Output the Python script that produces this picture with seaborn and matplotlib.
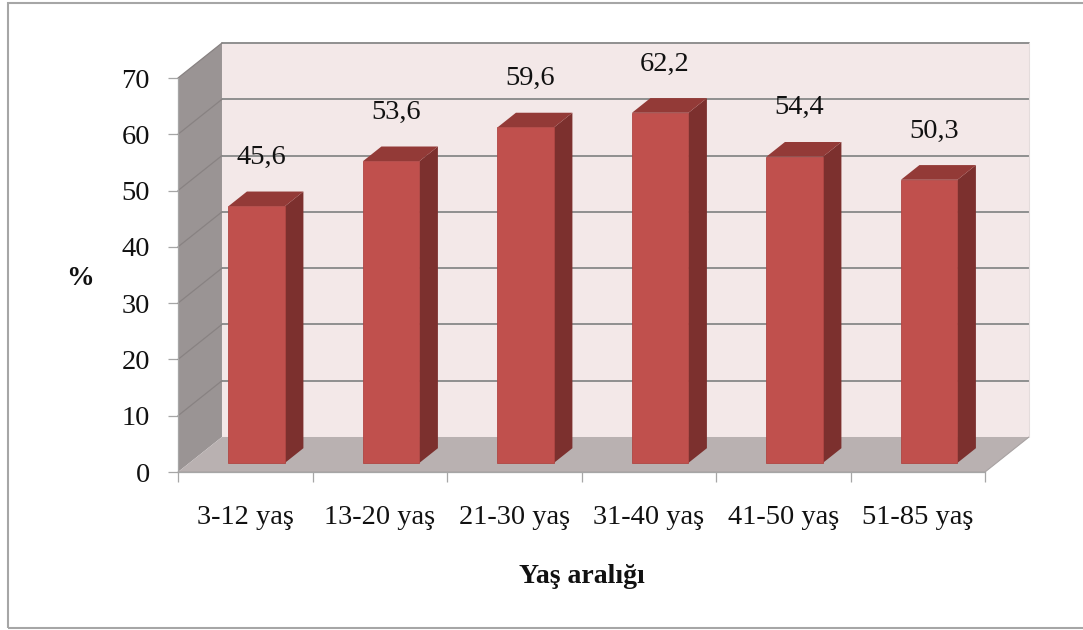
import matplotlib
matplotlib.use("Agg")
import matplotlib.pyplot as plt
from matplotlib.patches import Polygon, Rectangle
import seaborn as sns
import pandas as pd

# Data
categories = ["3-12 yaş", "13-20 yaş", "21-30 yaş", "31-40 yaş", "41-50 yaş", "51-85 yaş"]
values = [45.6, 53.6, 59.6, 62.2, 54.4, 50.3]
y_ticks = [0, 10, 20, 30, 40, 50, 60, 70]

sns.set_theme(style="white")
plt.rcParams["font.family"] = ["Liberation Serif", "DejaVu Serif"]

W, H = 1083, 630
fig = plt.figure(figsize=(W / 100, H / 100), dpi=100)
ax = fig.add_axes([178 / W, (H - 472) / H, 807 / W, 394 / H])
ax.set_xlim(-0.5, len(categories) - 0.5)
ax.set_ylim(0, 70)
ax.patch.set_alpha(0)

# Oblique depth of the 3D box, in data units
DX, DY = 0.327, 6.22
D0, D1 = 0.26, 0.68          # front / back depth of the bars
x_lo, x_hi = -0.5, len(categories) - 0.5
y_hi = y_ticks[-1]

wall_c = "#F3E8E8"
side_c = "#9A9494"
floor_c = "#B9B1B1"
grid_c = "#8F8F8F"

def poly(pts, fc, ec="none", lw=0.0, z=1):
    p = Polygon(pts, closed=True, facecolor=fc, edgecolor=ec, linewidth=lw,
                zorder=z, clip_on=False, joinstyle="miter")
    ax.add_patch(p)
    return p

# Back wall, left wall and floor
poly([(x_lo + DX, DY), (x_hi + DX, DY), (x_hi + DX, y_hi + DY), (x_lo + DX, y_hi + DY)], wall_c, z=0.5)
poly([(x_lo, 0), (x_lo + DX, DY), (x_lo + DX, y_hi + DY), (x_lo, y_hi)], side_c, z=0.6)
poly([(x_lo, 0), (x_hi, 0), (x_hi + DX, DY), (x_lo + DX, DY)], floor_c, z=0.7)

# Gridlines on back and left walls
for v in y_ticks[1:]:
    ax.plot([x_lo + DX, x_hi + DX], [v + DY, v + DY], color=grid_c, lw=1.4, zorder=0.8, clip_on=False)
    ax.plot([x_lo, x_lo + DX], [v, v + DY], color="#888282", lw=0.9, zorder=0.8, clip_on=False)
ax.plot([x_hi + DX, x_hi + DX], [DY, y_hi + DY], color="#E4DCDC", lw=0.8, zorder=0.8, clip_on=False)
ax.plot([x_lo, x_hi, x_hi + DX], [0, 0, DY], color="#A8A2A2", lw=0.8, zorder=0.75, clip_on=False)

# Front faces of the bars
df = pd.DataFrame({"cat": categories, "val": values})
sns.barplot(data=df, x="cat", y="val", color="#C0504D", saturation=1, width=0.42,
            ax=ax, zorder=3)

front_c, right_c, top_c = "#C0504D", "#7C302E", "#933A37"
sx, sy = D0 * DX, D0 * DY
bx, by = (D1 - D0) * DX, (D1 - D0) * DY
for p in ax.patches:
    if not isinstance(p, Rectangle):
        continue
    x0, w, h = p.get_x(), p.get_width(), p.get_height()
    p.set_x(x0 + sx)
    p.set_y(sy)
    p.set_clip_on(False)
    p.set_edgecolor("#B04643")
    p.set_linewidth(0.6)
    xa, xb = x0 + sx, x0 + sx + w
    yb, yt = sy, sy + h
    poly([(xb, yb), (xb + bx, yb + by), (xb + bx, yt + by), (xb, yt)], right_c, z=2.9)
    poly([(xa, yt), (xb, yt), (xb + bx, yt + by), (xa + bx, yt + by)], top_c, z=2.9)

# Value labels
for i, v in enumerate(values):
    ax.text(i + 0.12, v + 10.3, f"{v:.1f}".replace(".", ","), ha="center", va="center",
            fontsize=20.5, color="#111111", zorder=5)

# Axes styling
for s in ["top", "right"]:
    ax.spines[s].set_visible(False)
for s in ["left", "bottom"]:
    ax.spines[s].set_color("#A6A6A6")
    ax.spines[s].set_linewidth(0.9)
    ax.spines[s].set_zorder(1)

ax.set_yticks(y_ticks)
ax.set_yticklabels([str(t) for t in y_ticks])
ax.tick_params(axis="y", left=True, length=7.2, width=0.9, color="#A6A6A6",
               pad=13, labelsize=20.5, labelcolor="#111111")
ax.set_xticks(range(len(categories)))
ax.set_xticklabels(categories)
ax.set_xticks([i - 0.5 for i in range(len(categories) + 1)], minor=True)
ax.tick_params(axis="x", which="major", length=0, pad=24, labelsize=20.5, labelcolor="#111111")
ax.tick_params(axis="x", which="minor", bottom=True, length=7.2, width=0.9, color="#A6A6A6")

ax.set_ylabel("%", rotation=0, fontsize=20, fontweight="bold", color="#111111")
ax.yaxis.set_label_coords(-0.121, 0.49)
ax.yaxis.label.set_va("center")
ax.set_xlabel("Yaş aralığı", fontsize=20, fontweight="bold", color="#111111")
ax.xaxis.set_label_coords(0.5006, -0.266)
ax.xaxis.label.set_va("center")

# Chart-area border (its right side lies past the image edge)
fig.patches.append(Rectangle((7.5 / W, 2.5 / H), 1090 / W, 625 / H, transform=fig.transFigure,
                             fill=False, edgecolor="#A6A6A6", linewidth=1.5))

fig.savefig("out.png", dpi=100, facecolor="white")
